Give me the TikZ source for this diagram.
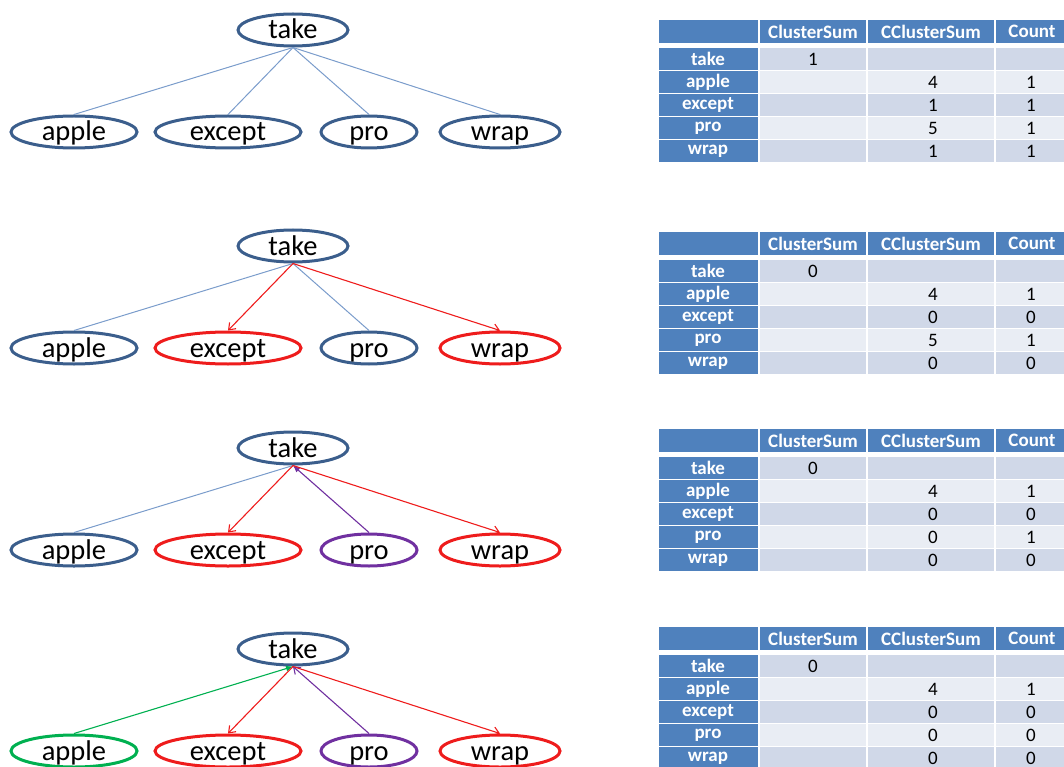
\documentclass[tikz,border=0pt]{standalone}
\usepackage{fontspec}
\setmainfont{Carlito}
\usetikzlibrary{arrows.meta,shapes.geometric}

\definecolor{rimblue}{HTML}{3B5E8C}
\definecolor{linkblue}{HTML}{7A9CCB}
\definecolor{hotred}{HTML}{EE1C1C}
\definecolor{plum}{HTML}{7030A0}
\definecolor{leaf}{HTML}{00B050}
\definecolor{hdrblue}{HTML}{4F81BD}
\definecolor{celldark}{HTML}{D0D8E8}
\definecolor{celllight}{HTML}{E9EDF4}

\tikzset{
  word/.style={ellipse, draw=rimblue, line width=3pt, inner sep=0pt,
    minimum height=32pt, text height=19pt, text depth=1pt,
    font=\fontsize{28.5}{30}\selectfont},
  redword/.style={word, draw=hotred},
  plumword/.style={word, draw=plum},
  leafword/.style={word, draw=leaf},
  link/.style={draw=linkblue, line width=1pt},
  redlink/.style={draw=hotred, line width=1.1pt, -{Straight Barb[length=6pt,width=9pt]}},
  plumlink/.style={draw=plum, line width=1.1pt},
  leaflink/.style={draw=leaf, line width=1.1pt},
  solidhead/.style={-{Latex[length=7pt,width=6pt]}},
  openhead/.style={-{Straight Barb[length=6pt,width=9pt]}},
  hdrtext/.style={text=white, inner sep=1pt, font=\fontsize{19}{21}\selectfont\bfseries},
  valtext/.style={text=black, inner sep=1pt, font=\fontsize{19}{21}\selectfont},
}

% one word tree: #1 name prefix, #2 y of the root, #3..#6 styles of the leaves
\newcommand{\wordtree}[6]{%
  \node[word, minimum width=110pt] (#1take) at (293,#2) {take};
  \node[#3, minimum width=126pt] (#1apple)  at (74,#2+102) {apple};
  \node[#4, minimum width=146pt] (#1except) at (228,#2+102) {except};
  \node[#5, minimum width=96pt]  (#1pro)    at (369,#2+102) {pro};
  \node[#6, minimum width=120pt] (#1wrap)   at (500,#2+102) {wrap};
}

% one statistics table: #1 name prefix, #2 top y, #3 body rows
\newcommand{\statstable}[3]{%
  \fill[hdrblue] (659,#2) rectangle (758,#2+23);
  \fill[hdrblue] (760,#2) rectangle (866,#2+23);
  \fill[hdrblue] (868,#2) rectangle (994,#2+23);
  \fill[hdrblue] (996,#2) rectangle (1070,#2+23);
  \node[hdrtext] (#1h1) at (813,#2+11.5) {ClusterSum};
  \node[hdrtext] (#1h2) at (931,#2+11.5) {CClusterSum};
  \node[hdrtext] (#1h3) at (1032,#2+11.5) {Count};
  \foreach \lab/\cs/\ccs/\cnt/\shade [count=\i] in {#3} {
    \pgfmathsetmacro{\ytop}{#2+28+23*(\i-1)}
    \fill[hdrblue] (659,\ytop) rectangle (758,\ytop+22);
    \fill[\shade] (760,\ytop) rectangle (866,\ytop+22);
    \fill[\shade] (868,\ytop) rectangle (994,\ytop+22);
    \fill[\shade] (996,\ytop) rectangle (1070,\ytop+22);
    \node[hdrtext] (#1r\i) at (708,\ytop+11) {\lab};
    \node[valtext] (#1r\i a) at (813,\ytop+11) {\cs};
    \node[valtext] (#1r\i b) at (933,\ytop+11) {\ccs};
    \node[valtext] (#1r\i c) at (1031,\ytop+11) {\cnt};
  }
}

\begin{document}
\begin{tikzpicture}[x=1pt, y=-1pt]
\useasboundingbox (0,0) rectangle (1064,767);

% ---- first stage: plain tree ----
\wordtree{a}{30}{word}{word}{word}{word}
\draw[link] (atake.south) -- (aapple.north);
\draw[link] (atake.south) -- (aexcept.north);
\draw[link] (atake.south) -- (apro.north);
\draw[link] (atake.south) -- (awrap.north);

% ---- second stage ----
\wordtree{b}{246}{word}{redword}{word}{redword}
\draw[link] (btake.south) -- (bapple.north);
\draw[redlink] (btake.south) -- (bexcept.north);
\draw[link] (btake.south) -- (bpro.north);
\draw[redlink] (btake.south) -- (bwrap.north);

% ---- third stage ----
\wordtree{c}{448}{word}{redword}{plumword}{redword}
\draw[link] (ctake.south) -- (capple.north);
\draw[redlink] (ctake.south) -- (cexcept.north);
\draw[plumlink, solidhead] (cpro.north) -- (ctake.south);
\draw[redlink] (ctake.south) -- (cwrap.north);

% ---- fourth stage ----
\wordtree{d}{649}{leafword}{redword}{plumword}{redword}
\draw[leaflink, solidhead] (dapple.north) -- (dtake.south);
\draw[redlink] (dtake.south) -- (dexcept.north);
\draw[plumlink, openhead] (dpro.north) -- (dtake.south);
\draw[redlink] (dtake.south) -- (dwrap.north);

% ---- tables ----
\statstable{p}{20}{take/1///celldark, apple//4/1/celllight, except//1/1/celldark, pro//5/1/celllight, wrap//1/1/celldark}
\statstable{q}{232}{take/0///celldark, apple//4/1/celllight, except//0/0/celldark, pro//5/1/celllight, wrap//0/0/celldark}
\statstable{r}{429}{take/0///celldark, apple//4/1/celllight, except//0/0/celldark, pro//0/1/celllight, wrap//0/0/celldark}
\statstable{s}{627}{take/0///celldark, apple//4/1/celllight, except//0/0/celldark, pro//0/0/celllight, wrap//0/0/celldark}
\end{tikzpicture}
\end{document}
